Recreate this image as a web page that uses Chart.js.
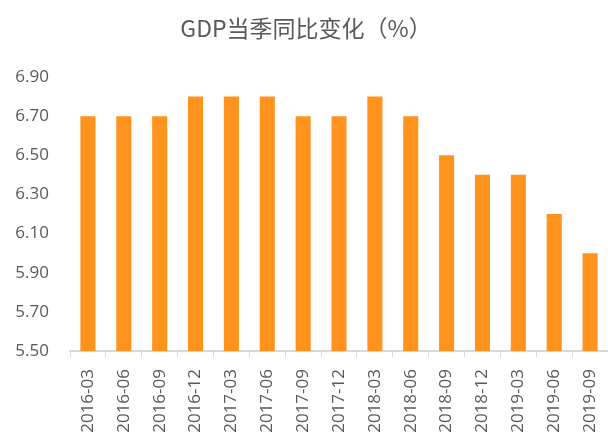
<!DOCTYPE html>
<html lang="zh">
<head>
<meta charset="UTF-8">
<title>GDP当季同比变化</title>
<script src="https://cdn.jsdelivr.net/npm/chart.js@4"></script>
<style>
body{margin:0;background:#fff}
#wrap{width:608px;height:434px}
</style>
</head>
<body>
<div id="wrap"><canvas id="chart" width="608" height="434"></canvas></div>
<script>
const quarters = ['2016-03','2016-06','2016-09','2016-12','2017-03','2017-06','2017-09','2017-12','2018-03','2018-06','2018-09','2018-12','2019-03','2019-06','2019-09'];
const gdpYoY = [6.7,6.7,6.7,6.8,6.8,6.8,6.7,6.7,6.8,6.7,6.5,6.4,6.4,6.2,6.0];
const yMin = 5.5, yMax = 6.9, yStep = 0.2;
const chartTitle = 'GDP当季同比变化（%）';

const txt = '#595959';
const numFont = '"Open Sans", "Noto Sans", sans-serif';

// draw the title by hand so its size/position can be pinned
const titlePlugin = {
  id: 'fixedTitle',
  afterDraw(chart) {
    const ctx = chart.ctx;
    ctx.save();
    ctx.fillStyle = txt;
    ctx.font = '23px "Noto Sans CJK SC", sans-serif';
    ctx.textAlign = 'center';
    ctx.textBaseline = 'middle';
    ctx.fillText(chartTitle, 306, 28);
    ctx.restore();
  }
};

new Chart(document.getElementById('chart'), {
  type: 'bar',
  data: {
    labels: quarters,
    datasets: [{
      data: gdpYoY,
      backgroundColor: '#FF931E',
      categoryPercentage: 1,
      barPercentage: 0.42
    }]
  },
  plugins: [titlePlugin],
  options: {
    responsive: false,
    animation: false,
    layout: {padding: {left: 0, right: 0, bottom: 0, top: 77}},
    plugins: {
      legend: {display: false},
      tooltip: {enabled: false},
      title: {display: false}
    },
    scales: {
      x: {
        grid: {display: true, drawOnChartArea: false, drawTicks: true, tickLength: 6, color: '#d9d9d9', offset: true},
        border: {display: true, color: '#d9d9d9', width: 2},
        ticks: {color: txt, font: {family: numFont, size: 17}, minRotation: 90, maxRotation: 90, padding: 12, autoSkip: false},
        afterFit: s => { s.height = 83; s.paddingLeft = 0; s.paddingRight = 0; }
      },
      y: {
        min: yMin,
        max: yMax,
        grid: {display: false, drawTicks: false},
        border: {display: false},
        ticks: {
          stepSize: yStep,
          color: txt,
          font: {family: numFont, size: 17},
          padding: 21,
          callback: v => v.toFixed(2)
        },
        afterFit: s => { s.width = 70; }
      }
    }
  }
});
</script>
</body>
</html>
